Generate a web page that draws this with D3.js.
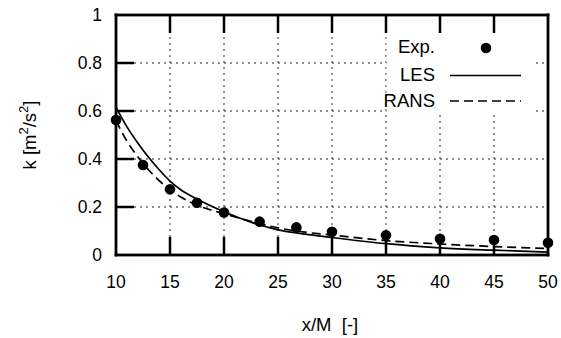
<!DOCTYPE html>
<html>
<head>
<meta charset="utf-8">
<script src="https://cdn.jsdelivr.net/npm/d3@7"></script>
<style>
  html, body { margin: 0; padding: 0; background: #fff; }
  svg { display: block; }
  text { font-family: "Liberation Sans", Arial, sans-serif; fill: #000; }
</style>
</head>
<body>
<svg id="chart" width="561" height="338"></svg>
<script>
// experimental points (x/M, k)
const expX = [10, 12.5, 15, 17.5, 20, 23.3, 26.7, 30, 35, 40, 45, 50];
const expK = [0.5625, 0.375, 0.274, 0.218, 0.177, 0.139, 0.115, 0.097, 0.082, 0.068, 0.062, 0.051];

// LES curve
const lesX = [10, 11, 12, 13, 14, 15, 16, 17.5, 20, 22.5, 25, 27.5, 30, 35, 40, 45, 50];
const lesK = [0.615, 0.535, 0.468, 0.408, 0.355, 0.308, 0.272, 0.233, 0.18, 0.137, 0.105, 0.087, 0.073, 0.047, 0.03, 0.02, 0.012];

// RANS curve
const ransX = [10, 11, 12, 13, 14, 15, 16, 17.5, 20, 22.5, 25, 27.5, 30, 35, 40, 45, 50];
const ransK = [0.56, 0.475, 0.41, 0.355, 0.31, 0.272, 0.242, 0.208, 0.172, 0.14, 0.113, 0.095, 0.083, 0.06, 0.046, 0.035, 0.027];

const xTicks = [10, 15, 20, 25, 30, 35, 40, 45, 50];
const yTicks = [0, 0.2, 0.4, 0.6, 0.8, 1];
const legendNames = ["Exp.", "LES", "RANS"];

const svg = d3.select("#chart");
const x = d3.scaleLinear().domain([10, 50]).range([116, 548]);
const y = d3.scaleLinear().domain([0, 1]).range([255, 15]);

svg.append("rect").attr("width", 561).attr("height", 338).attr("fill", "#fff");

// dotted grid
svg.append("g").selectAll("line").data(xTicks.slice(1, -1)).join("line")
  .attr("x1", d => x(d)).attr("x2", d => x(d))
  .attr("y1", y(0)).attr("y2", y(1))
  .attr("stroke", "#222").attr("stroke-width", 1).attr("stroke-dasharray", "2,4");
svg.append("g").selectAll("line").data(yTicks.slice(1, -1)).join("line")
  .attr("x1", x(10)).attr("x2", x(50))
  .attr("y1", d => y(d)).attr("y2", d => y(d))
  .attr("stroke", "#222").attr("stroke-width", 1).attr("stroke-dasharray", "2,4");

// legend box (white, hides grid behind the legend)
svg.append("rect")
  .attr("x", x(35.05)).attr("y", y(1) + 2)
  .attr("width", x(48.8) - x(35.05)).attr("height", y(0.59) - y(1) - 2)
  .attr("fill", "#fff");

// inward ticks as filled bars: bottom, top, left
const tickLen = 18, tw = 2.5;
const tickG = svg.append("g").attr("fill", "#000");
tickG.selectAll("rect.b").data(xTicks.slice(1, -1)).join("rect").attr("class", "b")
  .attr("x", d => x(d) - tw / 2).attr("y", y(0) - tickLen)
  .attr("width", tw).attr("height", tickLen);
tickG.selectAll("rect.t").data(xTicks.slice(1, -1)).join("rect").attr("class", "t")
  .attr("x", d => x(d) - tw / 2).attr("y", y(1))
  .attr("width", tw).attr("height", tickLen);
tickG.selectAll("rect.l").data(yTicks.slice(1, -1)).join("rect").attr("class", "l")
  .attr("x", x(10)).attr("y", d => y(d) - tw / 2)
  .attr("width", tickLen).attr("height", tw);

// tick labels
svg.append("g").selectAll("text").data(xTicks).join("text")
  .attr("x", d => x(d)).attr("y", 288)
  .attr("text-anchor", "middle").attr("font-size", 17.5)
  .text(d => d);
svg.append("g").selectAll("text").data(yTicks).join("text")
  .attr("x", 102).attr("y", d => y(d) + 6)
  .attr("text-anchor", "end").attr("font-size", 17.5)
  .text(d => d);

// axis titles
svg.append("text").attr("x", 330).attr("y", 331)
  .attr("text-anchor", "middle").attr("font-size", 18.5)
  .attr("xml:space", "preserve")
  .text("x/M  [-]");
const yl = svg.append("text")
  .attr("transform", `translate(36,${(y(0) + y(1)) / 2}) rotate(-90)`)
  .attr("text-anchor", "middle").attr("font-size", 18.5);
yl.append("tspan").text("k [m");
yl.append("tspan").attr("dy", -8).attr("font-size", 13).text("2");
yl.append("tspan").attr("dy", 8).text("/s");
yl.append("tspan").attr("dy", -8).attr("font-size", 13).text("2");
yl.append("tspan").attr("dy", 8).text("]");

// curves
const line = d3.line().curve(d3.curveMonotoneX)
  .x(d => x(d[0])).y(d => y(d[1]));
svg.append("path").datum(lesX.map((v, i) => [v, lesK[i]]))
  .attr("d", line).attr("fill", "none").attr("stroke", "#000").attr("stroke-width", 1.7);
svg.append("path").datum(ransX.map((v, i) => [v, ransK[i]]))
  .attr("d", line).attr("fill", "none").attr("stroke", "#000").attr("stroke-width", 1.7)
  .attr("stroke-dasharray", "9,5");

// experimental dots
svg.append("g").selectAll("circle").data(expX.map((v, i) => [v, expK[i]])).join("circle")
  .attr("cx", d => x(d[0])).attr("cy", d => y(d[1])).attr("r", 5.3).attr("fill", "#000");

// frame as four filled bars
const fw = 2.8;
const x0 = x(10), x1 = x(50), y0 = y(1), y1 = y(0);
const frameBars = [
  [x0 - fw / 2, y0 - fw / 2, x1 - x0 + fw, fw],
  [x0 - fw / 2, y1 - fw / 2, x1 - x0 + fw, fw],
  [x0 - fw / 2, y0 - fw / 2, fw, y1 - y0 + fw],
  [x1 - fw / 2, y0 - fw / 2, fw, y1 - y0 + fw]
];
svg.append("g").attr("fill", "#000").selectAll("rect").data(frameBars).join("rect")
  .attr("x", d => d[0]).attr("y", d => d[1]).attr("width", d => d[2]).attr("height", d => d[3]);

// legend
const lg = svg.append("g");
const rowY = [53, 81, 107];
lg.selectAll("text").data(legendNames).join("text")
  .attr("x", 435).attr("y", (d, i) => rowY[i])
  .attr("text-anchor", "end").attr("font-size", 18.5)
  .text(d => d);
lg.append("circle").attr("cx", 486).attr("cy", 48).attr("r", 5.3).attr("fill", "#000");
lg.append("line").attr("x1", 450).attr("x2", 521).attr("y1", 75.5).attr("y2", 75.5)
  .attr("stroke", "#000").attr("stroke-width", 1.7);
lg.append("line").attr("x1", 450).attr("x2", 521).attr("y1", 101).attr("y2", 101)
  .attr("stroke", "#000").attr("stroke-width", 1.7).attr("stroke-dasharray", "9,5");
</script>
</body>
</html>
